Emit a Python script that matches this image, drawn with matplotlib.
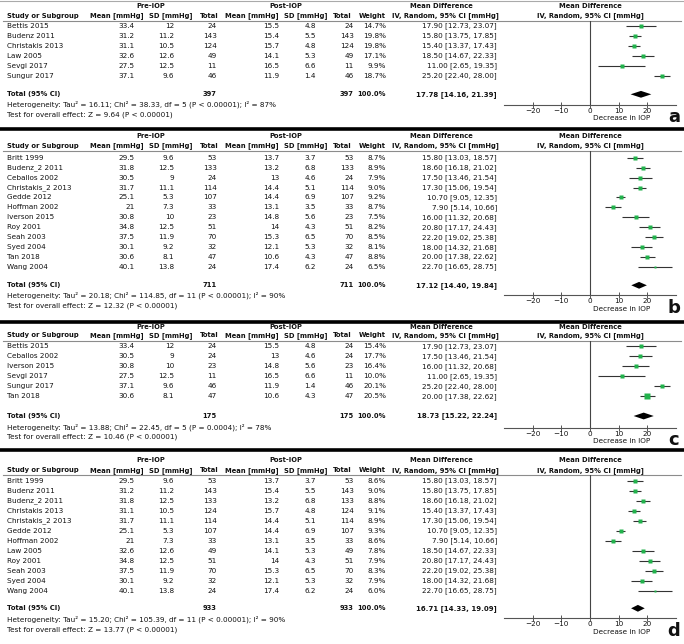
import numpy as np
import matplotlib.pyplot as plt

plt.rcParams['font.family'] = 'DejaVu Sans'

# ---------------- panel a ----------------
studies_a = ["Bettis 2015", "Budenz 2011", "Christakis 2013", "Law 2005", "Sevgi 2017", "Sungur 2017"]
pre_mean_a = [33.4, 31.2, 31.1, 32.6, 27.5, 37.1]
pre_sd_a = [12, 11.2, 10.5, 12.6, 12.5, 9.6]
n_a = [24, 143, 124, 49, 11, 46]
post_mean_a = [15.5, 15.4, 15.7, 14.1, 16.5, 11.9]
post_sd_a = [4.8, 5.5, 4.8, 5.3, 6.6, 1.4]
weight_a = [14.7, 19.8, 19.8, 17.1, 9.9, 18.7]
md_a = [17.90, 15.80, 15.40, 18.50, 11.00, 25.20]
lo_a = [12.73, 13.75, 13.37, 14.67, 2.65, 22.40]
hi_a = [23.07, 17.85, 17.43, 22.33, 19.35, 28.00]
total_a = [397, 17.78, 14.16, 21.39]
het_a = "Heterogeneity: Tau² = 16.11; Chi² = 38.33, df = 5 (P < 0.00001); I² = 87%"
test_a = "Test for overall effect: Z = 9.64 (P < 0.00001)"

# ---------------- panel b ----------------
studies_b = ["Britt 1999", "Budenz_2 2011", "Ceballos 2002", "Christakis_2 2013", "Gedde 2012", "Hoffman 2002",
             "Iverson 2015", "Roy 2001", "Seah 2003", "Syed 2004", "Tan 2018", "Wang 2004"]
pre_mean_b = [29.5, 31.8, 30.5, 31.7, 25.1, 21, 30.8, 34.8, 37.5, 30.1, 30.6, 40.1]
pre_sd_b = [9.6, 12.5, 9, 11.1, 5.3, 7.3, 10, 12.5, 11.9, 9.2, 8.1, 13.8]
n_b = [53, 133, 24, 114, 107, 33, 23, 51, 70, 32, 47, 24]
post_mean_b = [13.7, 13.2, 13, 14.4, 14.4, 13.1, 14.8, 14, 15.3, 12.1, 10.6, 17.4]
post_sd_b = [3.7, 6.8, 4.6, 5.1, 6.9, 3.5, 5.6, 4.3, 6.5, 5.3, 4.3, 6.2]
weight_b = [8.7, 8.9, 7.9, 9.0, 9.2, 8.7, 7.5, 8.2, 8.5, 8.1, 8.8, 6.5]
md_b = [15.80, 18.60, 17.50, 17.30, 10.70, 7.90, 16.00, 20.80, 22.20, 18.00, 20.00, 22.70]
lo_b = [13.03, 16.18, 13.46, 15.06, 9.05, 5.14, 11.32, 17.17, 19.02, 14.32, 17.38, 16.65]
hi_b = [18.57, 21.02, 21.54, 19.54, 12.35, 10.66, 20.68, 24.43, 25.38, 21.68, 22.62, 28.75]
total_b = [711, 17.12, 14.40, 19.84]
het_b = "Heterogeneity: Tau² = 20.18; Chi² = 114.85, df = 11 (P < 0.00001); I² = 90%"
test_b = "Test for overall effect: Z = 12.32 (P < 0.00001)"

# ---------------- panel c ----------------
studies_c = ["Bettis 2015", "Ceballos 2002", "Iverson 2015", "Sevgi 2017", "Sungur 2017", "Tan 2018"]
pre_mean_c = [33.4, 30.5, 30.8, 27.5, 37.1, 30.6]
pre_sd_c = [12, 9, 10, 12.5, 9.6, 8.1]
n_c = [24, 24, 23, 11, 46, 47]
post_mean_c = [15.5, 13, 14.8, 16.5, 11.9, 10.6]
post_sd_c = [4.8, 4.6, 5.6, 6.6, 1.4, 4.3]
weight_c = [15.4, 17.7, 16.4, 10.0, 20.1, 20.5]
md_c = [17.90, 17.50, 16.00, 11.00, 25.20, 20.00]
lo_c = [12.73, 13.46, 11.32, 2.65, 22.40, 17.38]
hi_c = [23.07, 21.54, 20.68, 19.35, 28.00, 22.62]
total_c = [175, 18.73, 15.22, 22.24]
het_c = "Heterogeneity: Tau² = 13.88; Chi² = 22.45, df = 5 (P = 0.0004); I² = 78%"
test_c = "Test for overall effect: Z = 10.46 (P < 0.00001)"

# ---------------- panel d ----------------
studies_d = ["Britt 1999", "Budenz 2011", "Budenz_2 2011", "Christakis 2013", "Christakis_2 2013", "Gedde 2012",
             "Hoffman 2002", "Law 2005", "Roy 2001", "Seah 2003", "Syed 2004", "Wang 2004"]
pre_mean_d = [29.5, 31.2, 31.8, 31.1, 31.7, 25.1, 21, 32.6, 34.8, 37.5, 30.1, 40.1]
pre_sd_d = [9.6, 11.2, 12.5, 10.5, 11.1, 5.3, 7.3, 12.6, 12.5, 11.9, 9.2, 13.8]
n_d = [53, 143, 133, 124, 114, 107, 33, 49, 51, 70, 32, 24]
post_mean_d = [13.7, 15.4, 13.2, 15.7, 14.4, 14.4, 13.1, 14.1, 14, 15.3, 12.1, 17.4]
post_sd_d = [3.7, 5.5, 6.8, 4.8, 5.1, 6.9, 3.5, 5.3, 4.3, 6.5, 5.3, 6.2]
weight_d = [8.6, 9.0, 8.8, 9.1, 8.9, 9.3, 8.6, 7.8, 7.9, 8.3, 7.9, 6.0]
md_d = [15.80, 15.80, 18.60, 15.40, 17.30, 10.70, 7.90, 18.50, 20.80, 22.20, 18.00, 22.70]
lo_d = [13.03, 13.75, 16.18, 13.37, 15.06, 9.05, 5.14, 14.67, 17.17, 19.02, 14.32, 16.65]
hi_d = [18.57, 17.85, 21.02, 17.43, 19.54, 12.35, 10.66, 22.33, 24.43, 25.38, 21.68, 28.75]
total_d = [933, 16.71, 14.33, 19.09]
het_d = "Heterogeneity: Tau² = 15.20; Chi² = 105.39, df = 11 (P < 0.00001); I² = 90%"
test_d = "Test for overall effect: Z = 13.77 (P < 0.00001)"

xticks = [-20, -10, 0, 10, 20]
panel_tags = ["a", "b", "c", "d"]

panels = [
    (studies_a, pre_mean_a, pre_sd_a, n_a, post_mean_a, post_sd_a, weight_a, md_a, lo_a, hi_a, total_a, het_a, test_a),
    (studies_b, pre_mean_b, pre_sd_b, n_b, post_mean_b, post_sd_b, weight_b, md_b, lo_b, hi_b, total_b, het_b, test_b),
    (studies_c, pre_mean_c, pre_sd_c, n_c, post_mean_c, post_sd_c, weight_c, md_c, lo_c, hi_c, total_c, het_c, test_c),
    (studies_d, pre_mean_d, pre_sd_d, n_d, post_mean_d, post_sd_d, weight_d, md_d, lo_d, hi_d, total_d, het_d, test_d),
]

# layout (pixel rows): top line, group header, col header, underline, first row, pitch, total, het, test, axis
layout = [
    dict(top=0.8, grp=5.5, hdr=15.7, ul=20.5, row0=25.7, pitch=10.06, tot=94.3, het=104.7, test=115.0, axis=104.8),
    dict(top=128.5, grp=136.0, hdr=145.7, ul=150.8, row0=157.7, pitch=9.94, tot=285.3, het=295.7, test=305.7, axis=295.0),
    dict(top=321.7, grp=326.8, hdr=335.3, ul=340.5, row0=346.2, pitch=10.0, tot=416.0, het=426.8, test=437.2, axis=427.7),
    dict(top=449.5, grp=459.8, hdr=470.3, ul=475.0, row0=480.6, pitch=10.0, tot=608.3, het=619.0, test=629.5, axis=618.0),
]

W, H = 684, 644
FS = 5.2      # regular text
FSB = 4.85    # bold text
GREEN = '#22b24c'

fig = plt.figure(figsize=(W / 100, H / 100), dpi=100)
lay = fig.add_axes([0, 0, 1, 1])
lay.set_xlim(0, W)
lay.set_ylim(H, 0)
lay.axis('off')


def fmt(v):
    return f'{v:g}'


def txt(x, y, s, ha='right', bold=False, size=None):
    if size is None:
        size = FSB if bold else FS
    lay.text(x, y, s, ha=ha, va='center', fontsize=size,
             fontweight='bold' if bold else 'normal', color='#111111')


# column anchors (right edges for values, centres for headers)
X_NAME = 7
R_PRE_M, R_PRE_SD, R_PRE_N = 134.3, 174.3, 216.7
R_POST_M, R_POST_SD, R_POST_N = 279.3, 315.7, 353.7
R_W, R_MD = 386, 497
FX0, FX1 = 504, 676  # forest axes pixel span for x in [-30, 30]

for k, (p, L) in enumerate(zip(panels, layout)):
    studies, pm, psd, n, qm, qsd, w, md, lo, hi, tot, het, test = p

    # panel separator
    if k == 0:
        lay.axhline(L['top'], color='#aaaaaa', lw=0.8)
    else:
        lay.axhline(L['top'], color='black', lw=2.6)

    # group headers
    txt(151, L['grp'], 'Pre-IOP', ha='center', bold=True)
    txt(285.5, L['grp'], 'Post-IOP', ha='center', bold=True)
    txt(441.3, L['grp'], 'Mean Difference', ha='center', bold=True)
    txt(590.3, L['grp'], 'Mean Difference', ha='center', bold=True)

    # column headers
    txt(X_NAME, L['hdr'], 'Study or Subgroup', ha='left', bold=True)
    txt(117, L['hdr'], 'Mean [mmHg]', ha='center', bold=True)
    txt(171, L['hdr'], 'SD [mmHg]', ha='center', bold=True)
    txt(209.5, L['hdr'], 'Total', ha='center', bold=True)
    txt(251.5, L['hdr'], 'Mean [mmHg]', ha='center', bold=True)
    txt(305.5, L['hdr'], 'SD [mmHg]', ha='center', bold=True)
    txt(342.5, L['hdr'], 'Total', ha='center', bold=True)
    txt(372.5, L['hdr'], 'Weight', ha='center', bold=True)
    txt(445, L['hdr'], 'IV, Random, 95% CI [mmHg]', ha='center', bold=True)
    txt(590.3, L['hdr'], 'IV, Random, 95% CI [mmHg]', ha='center', bold=True)
    lay.plot([3, 681], [L['ul'], L['ul']], color='#8c8c8c', lw=0.8)

    ys = [L['row0'] + i * L['pitch'] for i in range(len(studies))]
    for i, y in enumerate(ys):
        txt(X_NAME, y, studies[i], ha='left')
        txt(R_PRE_M, y, fmt(pm[i]))
        txt(R_PRE_SD, y, fmt(psd[i]))
        txt(R_PRE_N, y, str(n[i]))
        txt(R_POST_M, y, fmt(qm[i]))
        txt(R_POST_SD, y, fmt(qsd[i]))
        txt(R_POST_N, y, str(n[i]))
        txt(R_W, y, f'{w[i]:.1f}%')
        txt(R_MD, y, f'{md[i]:.2f} [{lo[i]:.2f}, {hi[i]:.2f}]')

    # totals
    txt(X_NAME, L['tot'], 'Total (95% CI)', ha='left', bold=True)
    txt(R_PRE_N, L['tot'], str(tot[0]), bold=True)
    txt(R_POST_N, L['tot'], str(tot[0]), bold=True)
    txt(R_W, L['tot'], '100.0%', bold=True)
    txt(R_MD, L['tot'], f'{tot[1]:.2f} [{tot[2]:.2f}, {tot[3]:.2f}]', bold=True, size=5.05)
    txt(X_NAME, L['het'], het, ha='left')
    txt(X_NAME, L['test'], test, ha='left')

    # forest plot axes: x in data units, y in pixel rows
    ax = fig.add_axes([FX0 / W, 1 - L['axis'] / H, (FX1 - FX0) / W, (L['axis'] - L['ul']) / H])
    ax.set_xlim(-30, 30)
    ax.set_ylim(L['axis'], L['ul'])
    ax.patch.set_visible(False)
    for s in ['top', 'left', 'right']:
        ax.spines[s].set_visible(False)
    ax.spines['bottom'].set_color('#555555')
    ax.spines['bottom'].set_linewidth(0.8)
    ax.set_yticks([])
    ax.set_xticks(xticks)
    ax.tick_params(axis='x', direction='inout', length=4, width=0.7, color='#555555',
                   labelsize=FS, pad=0.5, labelcolor='#111111')
    ax.axvline(0, color='#444444', lw=0.8)

    ax.hlines(ys, lo, hi, color='#333333', lw=0.8)
    for y, m, wt in zip(ys, md, w):
        ax.plot(m, y, 's', ms=0.8 * np.sqrt(wt), color=GREEN, mec='none')

    yt, dh = L['tot'], 3.4
    ax.fill([tot[2], tot[1], tot[3], tot[1]], [yt, yt - dh, yt, yt + dh], color='black', lw=0)

    txt(621.3, L['axis'] + 13.5, 'Decrease in IOP', ha='center')
    txt(674, L['axis'] + 12.5, panel_tags[k], ha='center', bold=True, size=13)

fig.savefig('out.png', dpi=100)
